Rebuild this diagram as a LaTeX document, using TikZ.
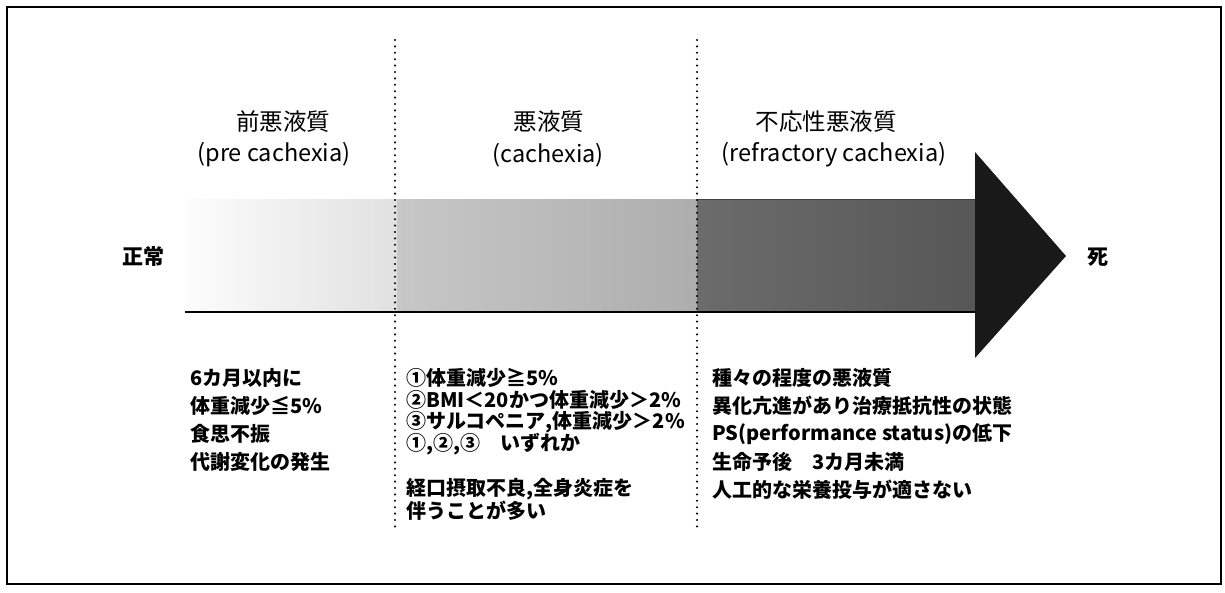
\documentclass[tikz,border=0pt]{standalone}
\usepackage{fontspec}
\setmainfont{Noto Sans CJK JP}
\begin{document}
\begin{tikzpicture}[x=1pt,y=-1pt,
  hdr/.style={font=\fontsize{23.5}{23.5}\selectfont, inner sep=0pt},
  body/.style={font=\bfseries\fontsize{20}{20}\selectfont, anchor=west, inner sep=0pt},
  side/.style={font=\bfseries\fontsize{21}{21}\selectfont, inner sep=0pt},
  sepline/.style={line width=2.3pt, dash pattern=on 0pt off 6.4pt, line cap=round}]
\useasboundingbox (0,0) rectangle (1225,593);
\draw[line width=1.5pt] (7,7) rectangle (1221,584);
% arrow body
\shade[left color=black!1, right color=black!12] (185,200) rectangle (397,312);
\shade[left color=black!22, right color=black!32] (397,200) rectangle (697,312);
\shade[left color=black!58, right color=black!66] (697,200) rectangle (975,312);
\draw[line width=1pt, black!75] (697,200) -- (975,200);
\draw[line width=2.2pt] (185,312) -- (975,312);
\fill[black!90] (975,152) -- (1066,256) -- (975,358) -- cycle;
% separators
\coordinate (s1t) at (395,40); \coordinate (s1b) at (395,530);
\coordinate (s2t) at (697,40); \coordinate (s2b) at (697,530);
\draw[sepline] (s1t) -- (s1b);
\draw[sepline] (s2t) -- (s2b);
% side labels
\node[side] (normal) at (143,257) {正常};
\node[side] (death) at (1098,257) {死};
% headers
\node[hdr] (h1a) at (283,122) {前悪液質};
\node[hdr] (h1b) at (274,155) {(pre cachexia)};
\node[hdr] (h2a) at (549,122) {悪液質};
\node[hdr] (h2b) at (548,155) {(cachexia)};
\node[hdr] (h3a) at (826,122) {不応性悪液質};
\node[hdr] (h3b) at (834,155) {(refractory cachexia)};
% left column
\node[body] (l1) at (190,378) {6カ月以内に};
\node[body] (l2) at (190,406) {体重減少≦5\%};
\node[body] (l3) at (190,434) {食思不振};
\node[body] (l4) at (190,462) {代謝変化の発生};
% middle column
\node[body] (m1) at (406,378) {①体重減少≧5\%};
\node[body] (m2) at (406,400) {②BMI＜20かつ体重減少＞2\%};
\node[body] (m3) at (406,422) {③サルコペニア,体重減少＞2\%};
\node[body] (m4) at (406,444) {①,②,③\hspace{1em}いずれか};
\node[body] (m5) at (406,489) {経口摂取不良,全身炎症を};
\node[body] (m6) at (406,511) {伴うことが多い};
% right column
\node[body] (r1) at (712,378) {種々の程度の悪液質};
\node[body] (r2) at (712,406) {異化亢進があり治療抵抗性の状態};
\node[body] (r3) at (712,434) {PS(performance status)の低下};
\node[body] (r4) at (712,462) {生命予後\hspace{1em}3カ月未満};
\node[body] (r5) at (712,490) {人工的な栄養投与が適さない};
\end{tikzpicture}
\end{document}
